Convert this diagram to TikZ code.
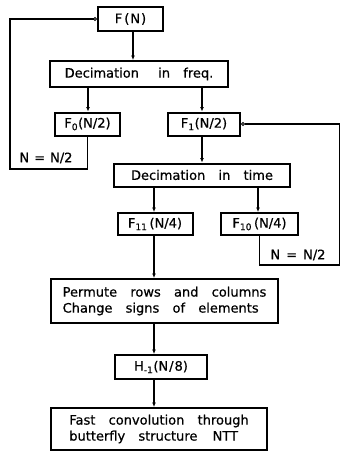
\documentclass[tikz,border=0pt]{standalone}
\usepackage{fontspec}
\setmainfont{DejaVu Sans}[WordSpace={3.2,1,1},FakeBold=0.6]
\usetikzlibrary{arrows.meta}
\newcommand{\myhs}[1]{\hspace{#1pt}}
\begin{document}
\begin{tikzpicture}[x=1pt,y=1pt,
  box/.style={draw,line width=2pt,inner sep=0pt,align=left,font=\fontsize{13}{16}\selectfont},
  arr/.style={line width=1.6pt,-{Latex[length=4.5pt,width=4pt]}},
  fb/.style={line width=1.6pt,-{Circle[open,length=4pt,line width=1pt]}},
  lbl/.style={font=\fontsize{13}{15}\selectfont,inner sep=0pt}]
\useasboundingbox (0,0) rectangle (341,-461);
\node[box,minimum width=65pt,minimum height=24pt] (FN) at (130.5,-19) {F\myhs{2}(\myhs{1}N\myhs{1})};
\node[box,minimum width=178pt,minimum height=26pt] (DF) at (139,-74) {Decimation\myhs{6} in\myhs{0} freq.};
\node[box,minimum width=65pt,minimum height=23pt] (F0) at (87.5,-124) {F\textsubscript{0}(N/2)};
\node[box,minimum width=72pt,minimum height=23pt] (F1) at (204,-124) {F\textsubscript{1}(N/2)};
\node[box,minimum width=176pt,minimum height=23pt] (DT) at (202,-175) {Decimation in time};
\node[box,minimum width=75pt,minimum height=22pt] (F11) at (155,-224) {F\textsubscript{11}\myhs{2}(N/4)};
\node[box,minimum width=77pt,minimum height=22pt] (F10) at (259.5,-224) {F\textsubscript{10}\myhs{2}(N/4)};
\node[box,minimum width=227pt,minimum height=44pt] (PR) at (164.5,-301) {Permute rows and columns\\Change signs of elements};
\node[box,minimum width=92pt,minimum height=24pt] (H) at (161,-367) {H\textsubscript{-1}(N\myhs{1}/\myhs{1}8)};
\node[box,minimum width=216pt,minimum height=42pt] (FC) at (159,-429) {Fast convolution through\\butterfly structure\myhs{2} NTT};
% main arrows
\draw[arr] ([xshift=2.5pt]FN.south) -- ([xshift=-6pt]DF.north);
\draw[arr] ([xshift=-51pt]DF.south) -- ([xshift=0.5pt]F0.north);
\draw[arr] ([xshift=63pt]DF.south) -- ([xshift=-2pt]F1.north);
\draw[arr] ([xshift=-2pt]F1.south) -- ([xshift=0pt]DT.north);
\draw[arr] ([xshift=-48pt]DT.south) -- ([xshift=-1pt]F11.north);
\draw[arr] ([xshift=56pt]DT.south) -- ([xshift=-1.5pt]F10.north);
\draw[arr] ([xshift=-1pt]F11.south) -- ([xshift=-10.5pt]PR.north);
\draw[arr] ([xshift=-7pt]H.north |- PR.south) -- ([xshift=-7pt]H.north);
\draw[arr] ([xshift=-7pt]H.south) -- ([xshift=-5pt]FC.north);
% feedback loops
\coordinate (L1) at (10,-169);
\coordinate (L2) at (10,-19);
\draw[fb] (F0.south) |- (L1) -- (L2) -- (FN.west);
\node[lbl] (NL) at (46,-158) {N\myhs{5}=\myhs{5}N/2};
\coordinate (R1) at (339.5,-265);
\coordinate (R2) at (339.5,-124);
\draw[fb] (F10.south) |- (R1) -- (R2) -- (F1.east);
\node[lbl] (NR) at (298,-255) {N\myhs{6}=\myhs{6}N/2};
\end{tikzpicture}
\end{document}
